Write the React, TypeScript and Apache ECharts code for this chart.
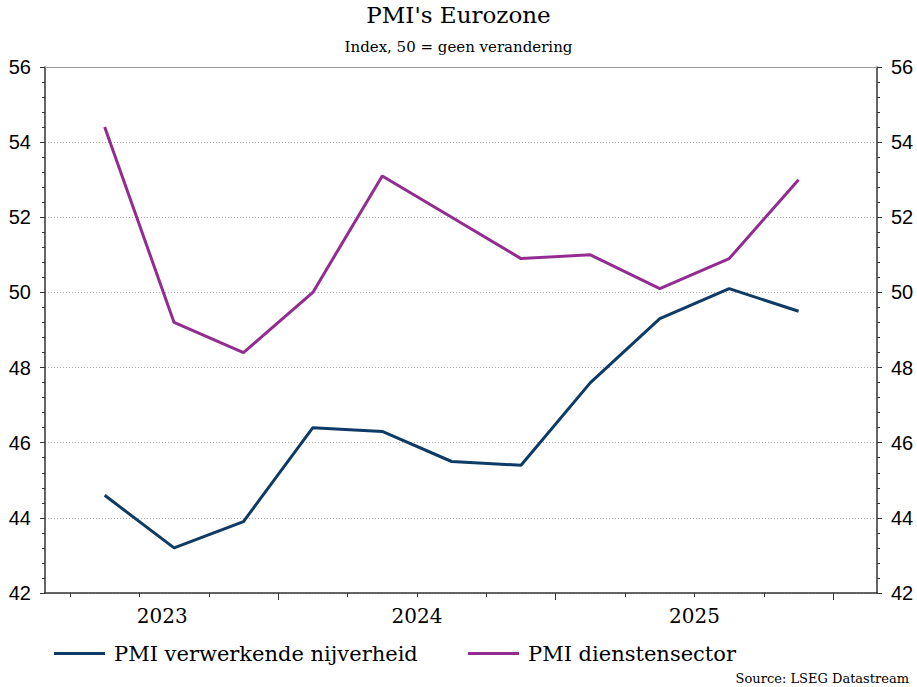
import React, { useEffect, useRef } from "react";
import * as echarts from "echarts";

// Quarterly observations (mid-quarter)
const periods = ["2023 Q2", "2023 Q3", "2023 Q4", "2024 Q1", "2024 Q2", "2024 Q3", "2024 Q4", "2025 Q1", "2025 Q2", "2025 Q3", "2025 Q4"];
const manufacturing = [44.6, 43.2, 43.9, 46.4, 46.3, 45.5, 45.4, 47.6, 49.3, 50.1, 49.5];
const services = [54.4, 49.2, 48.4, 50.0, 53.1, 52.0, 50.9, 51.0, 50.1, 50.9, 53.0];
const yearLabels = ["2023", "2024", "2025"];
const seriesNames = ["PMI verwerkende nijverheid", "PMI dienstensector"];

// x unit: quarters since 1 Jan 2023
const toX = (p: string) => {
  const [y, q] = p.split(" ");
  return (parseInt(y) - 2023) * 4 + parseInt(q.slice(1)) - 0.5;
};
const X_MIN = 0.64;
const X_MAX = 12.63;
const quarterTicks = [1, 2, 3, 4, 5, 6, 7, 8, 9, 10, 11, 12];
const yearTicks = [4, 8, 12];
const yearLabelPos = [2.33, 6, 10];

const NAVY = "#0d3b66";
const PURPLE = "#932c91";
const SERIF = "'DejaVu Serif', serif";
const SANS = "'Liberation Sans', Arial, sans-serif";

export default function App() {
  const ref = useRef<HTMLDivElement>(null);
  useEffect(() => {
    if (!ref.current) return;
    document.body.style.margin = "0";
    const chart = echarts.init(ref.current, null, { renderer: "svg" });
    const yCommon = {
      type: "value",
      min: 42,
      max: 56,
      interval: 2,
      axisLine: { show: true, lineStyle: { color: "#333", width: 1.5 } },
      axisTick: { show: true, length: 5, lineStyle: { color: "#333" } },
      minorTick: { show: true, splitNumber: 5, length: 3, lineStyle: { color: "#333" } },
      axisLabel: { color: "#000", fontFamily: SANS, fontSize: 20, margin: 14 },
    };
    const legendCommon = {
      icon: "rect",
      itemWidth: 51,
      itemHeight: 3,
      itemGap: 0,
      padding: 0,
      top: 643,
      textStyle: { fontFamily: SERIF, fontSize: 21, color: "#000", padding: [0, 0, 0, 4] },
    };
    chart.setOption({
      animation: false,
      backgroundColor: "#fff",
      title: [
        {
          text: "PMI's Eurozone",
          left: "center",
          top: 3,
          padding: 0,
          textStyle: { fontFamily: SERIF, fontSize: 23, fontWeight: "normal", color: "#000" },
        },
        {
          text: "Index, 50 = geen verandering",
          left: "center",
          top: 39,
          padding: 0,
          textStyle: { fontFamily: SERIF, fontSize: 15, fontWeight: "normal", color: "#000" },
        },
      ],
      legend: [
        { ...legendCommon, data: [seriesNames[0]], left: 54 },
        { ...legendCommon, data: [seriesNames[1]], left: 468 },
      ],
      grid: { left: 45, right: 40, top: 67, bottom: 94 },
      xAxis: [
        {
          type: "value",
          position: "bottom",
          min: X_MIN,
          max: X_MAX,
          axisLine: { show: true, onZero: false, lineStyle: { color: "#333", width: 1.5 } },
          axisTick: { show: true, customValues: quarterTicks, length: 4, lineStyle: { color: "#333" } },
          axisLabel: {
            customValues: yearLabelPos,
            formatter: (v: number) => yearLabels[v < 4 ? 0 : v < 8 ? 1 : 2],
            fontFamily: SERIF,
            fontSize: 20,
            color: "#000",
            margin: 13,
          },
          splitLine: { show: false },
        },
        {
          type: "value",
          position: "bottom",
          min: X_MIN,
          max: X_MAX,
          axisLine: { show: false, onZero: false },
          axisTick: { show: true, customValues: yearTicks, length: 7, lineStyle: { color: "#333" } },
          axisLabel: { show: false },
          splitLine: { show: false },
        },
        {
          type: "value",
          position: "top",
          min: X_MIN,
          max: X_MAX,
          axisLine: { show: true, onZero: false, lineStyle: { color: "#999", width: 1 } },
          axisTick: { show: false },
          axisLabel: { show: false },
          splitLine: { show: false },
        },
      ],
      yAxis: [
        {
          ...yCommon,
          position: "left",
          splitLine: { show: true, lineStyle: { color: "#aaa", type: [1, 2], width: 1 } },
        },
        {
          ...yCommon,
          position: "right",
          splitLine: { show: false },
        },
      ],
      series: [
        {
          name: seriesNames[0],
          type: "line",
          xAxisIndex: 0,
          yAxisIndex: 0,
          data: periods.map((p, i) => [toX(p), manufacturing[i]]),
          showSymbol: false,
          symbol: "none",
          lineStyle: { color: NAVY, width: 3 },
          itemStyle: { color: NAVY },
        },
        {
          name: seriesNames[1],
          type: "line",
          xAxisIndex: 0,
          yAxisIndex: 0,
          data: periods.map((p, i) => [toX(p), services[i]]),
          showSymbol: false,
          symbol: "none",
          lineStyle: { color: PURPLE, width: 3 },
          itemStyle: { color: PURPLE },
        },
      ],
      graphic: [
        {
          type: "text",
          right: 8,
          top: 672,
          style: { text: "Source: LSEG Datastream", fontFamily: SERIF, fontSize: 13, fill: "#000" },
        },
      ],
    });
    return () => chart.dispose();
  }, []);
  return <div ref={ref} style={{ width: 917, height: 687 }} />;
}
